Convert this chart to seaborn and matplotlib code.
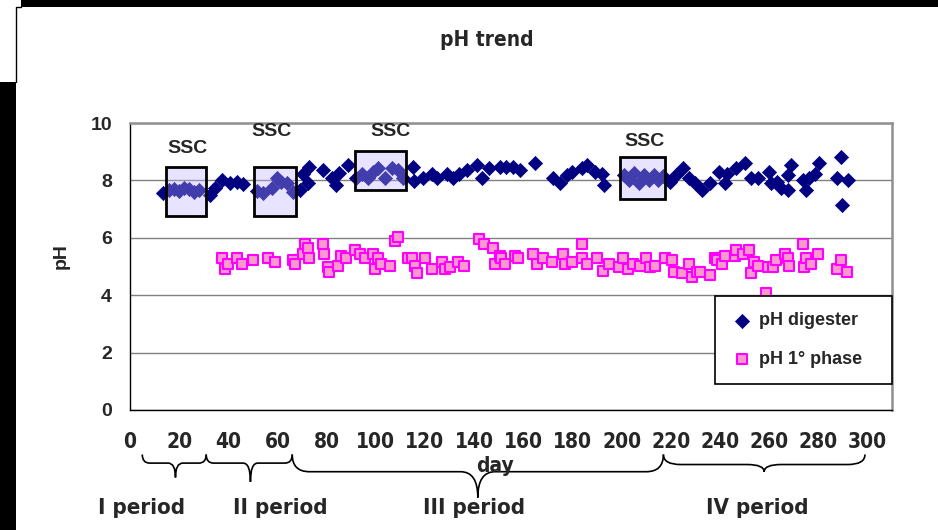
import numpy as np
import pandas as pd
import matplotlib
matplotlib.use("Agg")
import matplotlib.pyplot as plt
import seaborn as sns
from matplotlib.patches import Rectangle, PathPatch
from matplotlib.path import Path
from matplotlib.lines import Line2D
import matplotlib.transforms as mtransforms
from matplotlib import font_manager

# pH in the digester
digester_day = [13.4, 16, 18, 20, 22, 24, 26, 28, 32.5, 34.6, 37.4, 40.6, 43.5, 46,
                51.5, 54, 57.6, 60, 61.5, 63.7, 66.4, 69, 70.5, 72.5, 73,
                78.6, 82, 84, 85, 88.6, 92, 94.3, 96.9, 99, 100.9, 103.7, 106.5, 109, 111,
                115, 115.5, 119, 122.8, 125, 128.8, 131.4, 134, 136.9, 141, 143, 146, 150.4, 153,
                155.7, 158.5, 164.6, 172, 174.8, 177.6, 180, 183.7, 186, 189, 191.9, 193,
                201, 203, 205, 207, 209, 211, 213, 215, 217, 219.5, 222, 225, 227.6, 229.7,
                232.5, 235.8, 239.8, 241.9, 243, 246.7, 250, 252.8, 255.3, 260, 260.9, 263.4,
                265, 267.5, 267.5, 269, 273.6, 275, 276.4, 278.5, 280.5, 287.8, 289.4, 289.8, 292]
digester_ph = [7.55, 7.65, 7.7, 7.62, 7.75, 7.7, 7.6, 7.68, 7.5, 7.75, 8.0, 7.9, 7.93, 7.88,
               7.62, 7.55, 7.72, 8.07, 7.95, 7.9, 7.6, 7.65, 8.24, 7.9, 8.46,
               8.36, 8.1, 7.85, 8.25, 8.53, 8.1, 8.24, 8.07, 8.3, 8.43, 8.1, 8.43, 8.36, 8.1,
               8.46, 7.98, 8.1, 8.24, 8.1, 8.24, 8.1, 8.24, 8.36, 8.53, 8.1, 8.43, 8.46, 8.46,
               8.46, 8.36, 8.6, 8.07, 7.9, 8.18, 8.28, 8.43, 8.53, 8.28, 8.24, 7.83,
               8.18, 8.0, 8.25, 7.92, 8.2, 8.0, 8.2, 8.02, 8.15, 7.93, 8.18, 8.43, 8.1, 7.9,
               7.65, 7.9, 8.28, 7.9, 8.24, 8.43, 8.6, 8.07, 8.07, 8.28, 7.9, 7.93,
               7.72, 7.65, 8.18, 8.53, 8.0, 7.65, 8.1, 8.24, 8.6, 8.1, 8.82, 7.13, 8.0]

# pH of the 1st phase
phase1_day = [37.4, 38.6, 40, 43.5, 45.5, 50, 56, 59, 66.3, 67, 70.4, 71, 72.4, 73,
              78.6, 79, 80.6, 81, 84.5, 86, 88, 91.5, 93.5, 95.5, 99, 99.6, 100.8, 102,
              105.7, 107.7, 109, 113, 114.6, 116, 116.6, 120, 122.7, 126.8, 128, 130,
              133.3, 136, 142, 144, 147.6, 148.4, 150.4, 151, 152.4,
              156.5, 157.7, 163.8, 165.4, 168, 171.5, 176, 176.8, 179.7, 183.7, 184, 185.8,
              189.8, 192.3, 195, 199, 200.4, 202.5, 204.5, 207.3, 210, 211.4, 213.4, 217.5,
              220.7, 221.5, 224.4, 227.6, 228.5, 230.5,
              231.7, 235.8, 237.8, 239, 241, 241.9, 246, 246.7, 249.3, 252, 252.8, 254,
              255.3, 258.9, 259.5, 261.4, 263, 266.3, 267.5, 268.3, 273.6, 274.4, 275,
              277.2, 279.7, 287.8, 289.4, 291.5]
phase1_ph = [5.28, 4.93, 5.1, 5.28, 5.1, 5.21, 5.31, 5.14, 5.21, 5.1, 5.45, 5.8, 5.63, 5.31,
             5.8, 5.45, 4.97, 4.8, 5.03, 5.38, 5.31, 5.56, 5.45, 5.28, 5.45, 4.93, 5.28, 5.1,
             5.03, 5.9, 6.02, 5.31, 5.28, 5.03, 4.76, 5.28, 4.93, 5.14, 4.93, 4.97,
             5.14, 5.03, 5.97, 5.8, 5.63, 5.1, 5.38, 5.28, 5.1,
             5.38, 5.31, 5.45, 5.1, 5.28, 5.14, 5.45, 5.1, 5.14, 5.31, 5.8, 5.1,
             5.28, 4.86, 5.1, 4.97, 5.28, 4.93, 5.1, 5.03, 5.28, 4.97, 5.03, 5.28,
             5.21, 4.8, 4.76, 5.1, 4.62, 4.8,
             4.8, 4.69, 5.28, 5.21, 5.1, 5.38, 5.38, 5.56, 5.45, 5.56, 4.76, 5.14,
             5.03, 4.09, 4.97, 4.97, 5.21, 5.45, 5.28, 5.03, 5.8, 4.97, 5.31,
             5.1, 5.45, 4.93, 5.21, 4.8]

# SSC boxes: (day start, day end, pH low, pH high)
ssc_day0 = [14.5, 50.5, 91.7, 199.5]
ssc_day1 = [30.8, 67.5, 112.2, 217.5]
ssc_ph0 = [6.75, 6.75, 7.66, 7.35]
ssc_ph1 = [8.46, 8.46, 9.03, 8.82]
ssc_label_day = [23.5, 57.5, 106, 209.5]
ssc_label_ph = [9.1, 9.72, 9.72, 9.34]

# periods under the x axis
period_edges = [5, 31, 66, 217, 299]
period_tips = [18.5, 49, 141.5, 258]
period_names = ["I period", "II period", "III period", "IV period"]
period_label_x = [4.5, 61, 140, 255]

x_ticks = list(range(0, 301, 20))
y_ticks = [0, 2, 4, 6, 8, 10]

sns.set_style("white")
plt.rcParams['font.family'] = ['Liberation Sans', 'DejaVu Sans']

# narrow bold face for the title, x ticks and period names (Arial Narrow look)
narrow = dict(family="DejaVu Sans", stretch="condensed")
found = font_manager.findfont(font_manager.FontProperties(family="DejaVu Sans",
                                                          stretch="condensed", weight="bold"))
if "Condensed" not in found:
    narrow = dict(family="Liberation Sans")

fig = plt.figure(figsize=(9.38, 5.30), dpi=100)
ax = fig.add_axes([130 / 938, 1 - 410 / 530, 762 / 938, 287 / 530])

sns.scatterplot(x=digester_day, y=digester_ph, marker="D", s=52, color="#000080",
                edgecolor="#000080", linewidth=0.5, ax=ax, label="pH digester", zorder=3)
sns.scatterplot(x=phase1_day, y=phase1_ph, marker="s", s=50, color="#FF99CC",
                edgecolor="#FF00FF", linewidth=1.5, ax=ax, label="pH 1° phase", zorder=3)

for d0, d1, p0, p1 in zip(ssc_day0, ssc_day1, ssc_ph0, ssc_ph1):
    ax.add_patch(Rectangle((d0, p0), d1 - d0, p1 - p0, facecolor=(0.75, 0.69, 1.0, 0.35),
                           edgecolor="black", linewidth=2, zorder=4))
for d, p in zip(ssc_label_day, ssc_label_ph):
    ax.text(d, p, "SSC", ha="center", va="center", fontsize=14, fontweight="bold", zorder=5)

ax.set_xlim(0, 310)
ax.set_ylim(0, 10)
ax.set_xticks(x_ticks)
ax.set_yticks(y_ticks)
ax.set_xticklabels([str(v) for v in x_ticks], fontsize=15, fontweight="bold", **narrow)
ax.set_yticklabels([str(v) for v in y_ticks], fontsize=14, fontweight="bold")
ax.tick_params(axis="x", direction="out", length=5, width=1, pad=11, color="black")
ax.tick_params(axis="y", direction="out", length=5, width=1, pad=8, color="black")
ax.yaxis.grid(True, color="#808080", linewidth=1)
ax.set_axisbelow(True)
for side in ["top", "right"]:
    ax.spines[side].set_color("#909090")
    ax.spines[side].set_linewidth(1.8)
for side in ["left", "bottom"]:
    ax.spines[side].set_color("black")
    ax.spines[side].set_linewidth(1.0)

ax.set_xlabel("")
ax.set_ylabel("")
ax.text(-0.09, 0.537, "pH", transform=ax.transAxes, rotation=90, ha="center", va="center",
        fontsize=14, fontweight="bold")
ax.text(0.479, -0.195, "day", transform=ax.transAxes, ha="center", va="center",
        fontsize=15, fontweight="bold", **narrow)
fig.text(487 / 938, 1 - 40 / 530, "pH trend", ha="center", va="center",
         fontsize=15, fontweight="bold", **narrow)

# curly braces for the periods
trans = mtransforms.blended_transform_factory(ax.transData, ax.transAxes)
y_top = -0.155
tip_depth = [-0.235, -0.25, -0.305, -0.215]
mid_level = [-0.185, -0.185, -0.215, -0.19]
for i in range(4):
    x0, x1, xt = period_edges[i], period_edges[i + 1], period_tips[i]
    ym, yt = mid_level[i], tip_depth[i]
    r = 3 if i < 2 else 7
    verts = [(x0, y_top), (x0, ym), (x0 + r, ym),
             (xt - r, ym),
             (xt, ym), (xt, yt),
             (xt, ym), (xt + r, ym),
             (x1 - r, ym),
             (x1, ym), (x1, y_top)]
    codes = [Path.MOVETO, Path.CURVE3, Path.CURVE3,
             Path.LINETO,
             Path.CURVE3, Path.CURVE3,
             Path.CURVE3, Path.CURVE3,
             Path.LINETO,
             Path.CURVE3, Path.CURVE3]
    ax.add_patch(PathPatch(Path(verts, codes), facecolor="none", edgecolor="black",
                           linewidth=1.2, transform=trans, clip_on=False))
    ax.text(period_label_x[i], -0.341, period_names[i], transform=trans, ha="center",
            va="center", fontsize=16, fontweight="bold", **narrow)

leg = ax.legend(loc="upper left", bbox_to_anchor=(0.768, 0.09, 0.232, 0.307), mode="expand",
                frameon=True, fancybox=False, edgecolor="black", framealpha=1, fontsize=13,
                labelspacing=1.2, borderpad=0.9, handletextpad=0.3, handlelength=1.2,
                borderaxespad=0)
leg.get_frame().set_linewidth(1.2)
for t in leg.get_texts():
    t.set_fontweight("bold")
leg.set_zorder(6)

# frame around the picture
fig.patches.append(Rectangle((21 / 938, 1 - 7 / 530), 1, 7 / 530, transform=fig.transFigure,
                             facecolor="black", edgecolor="none"))
fig.patches.append(Rectangle((0, 0), 16 / 938, 1 - 82 / 530, transform=fig.transFigure,
                             facecolor="black", edgecolor="none"))
fig.lines.append(Line2D([16 / 938, 16 / 938, 21 / 938], [1 - 82 / 530, 1 - 7 / 530, 1 - 7 / 530],
                        transform=fig.transFigure, color="black", linewidth=1))

fig.savefig("out.png", dpi=100)
